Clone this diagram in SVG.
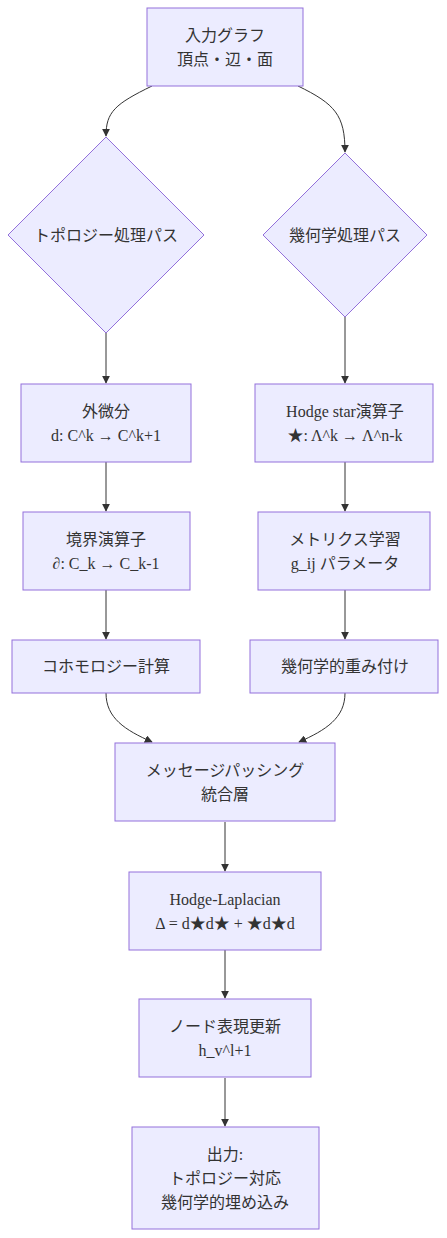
<svg xmlns="http://www.w3.org/2000/svg" width="447" height="1238" viewBox="0 0 447 1238">
<style>
.n{fill:#ECECFF;stroke:#9370DB;stroke-width:1}
.e{fill:none;stroke:#333333;stroke-width:1}
text{font-family:"Liberation Serif","Noto Sans CJK JP",serif;font-size:16px;fill:#333333;text-anchor:middle;dominant-baseline:central}
</style>
<defs>
<marker id="ah" viewBox="0 0 10 10" refX="9" refY="5" markerWidth="8" markerHeight="8" markerUnits="userSpaceOnUse" orient="auto">
<path d="M0,0 L10,5 L0,10 z" fill="#333333"/>
</marker>
</defs>
<rect width="447" height="1238" fill="#ffffff"/>
<g id="edges">
<path class="e" d="M152,86 C115,104 106,112 106,136" marker-end="url(#ah)"/>
<path class="e" d="M298,86 C335,104 345,115 345,152" marker-end="url(#ah)"/>
<path class="e" d="M106,333 L106,383" marker-end="url(#ah)"/>
<path class="e" d="M345,317 L345,383" marker-end="url(#ah)"/>
<path class="e" d="M106,462 L106,511" marker-end="url(#ah)"/>
<path class="e" d="M345,462 L345,511" marker-end="url(#ah)"/>
<path class="e" d="M106,590 L106,639" marker-end="url(#ah)"/>
<path class="e" d="M345,590 L345,639" marker-end="url(#ah)"/>
<path class="e" d="M106,693 C106,718 125,730 152,742" marker-end="url(#ah)"/>
<path class="e" d="M345,693 C345,718 326,730 299,742" marker-end="url(#ah)"/>
<path class="e" d="M225,822 L225,871" marker-end="url(#ah)"/>
<path class="e" d="M225,950 L225,998" marker-end="url(#ah)"/>
<path class="e" d="M225,1078 L225,1126" marker-end="url(#ah)"/>
</g>
<g id="input"><rect class="n" x="147" y="8" width="156" height="78"/><text x="225" y="35">入力グラフ</text><text x="225" y="59">頂点・辺・面</text></g>
<g id="topo"><polygon class="n" points="106,137 204,235 106,333 8,235"/><text x="106" y="235">トポロジー処理パス</text></g>
<g id="geo"><polygon class="n" points="345,153 427,235 345,317 263,235"/><text x="345" y="235">幾何学処理パス</text></g>
<g id="extd"><rect class="n" x="21" y="384" width="170" height="78"/><text x="106" y="411">外微分</text><text x="106" y="435">d: C^k → C^k+1</text></g>
<g id="bound"><rect class="n" x="23" y="512" width="167" height="78"/><text x="106" y="539">境界演算子</text><text x="106" y="563">∂: C_k → C_k-1</text></g>
<g id="cohom"><rect class="n" x="12" y="640" width="188" height="53"/><text x="106" y="666">コホモロジー計算</text></g>
<g id="hstar"><rect class="n" x="255" y="384" width="178" height="78"/><text x="345" y="411">Hodge star演算子</text><text x="345" y="435">★: Λ^k → Λ^n-k</text></g>
<g id="metric"><rect class="n" x="258" y="512" width="172" height="78"/><text x="345" y="539">メトリクス学習</text><text x="345" y="563">g_ij パラメータ</text></g>
<g id="gweight"><rect class="n" x="250" y="640" width="188" height="53"/><text x="345" y="666">幾何学的重み付け</text></g>
<g id="mp"><rect class="n" x="115" y="743" width="220" height="78"/><text x="225" y="770">メッセージパッシング</text><text x="225" y="794">統合層</text></g>
<g id="hl"><rect class="n" x="129" y="872" width="192" height="78"/><text x="225" y="899">Hodge-Laplacian</text><text x="225" y="923">Δ = d★d★ + ★d★d</text></g>
<g id="upd"><rect class="n" x="139" y="999" width="172" height="78"/><text x="225" y="1026">ノード表現更新</text><text x="225" y="1050">h_v^l+1</text></g>
<g id="out"><rect class="n" x="132" y="1127" width="187" height="102"/><text x="225" y="1154">出力:</text><text x="225" y="1178">トポロジー対応</text><text x="225" y="1202">幾何学的埋め込み</text></g>
</svg>
